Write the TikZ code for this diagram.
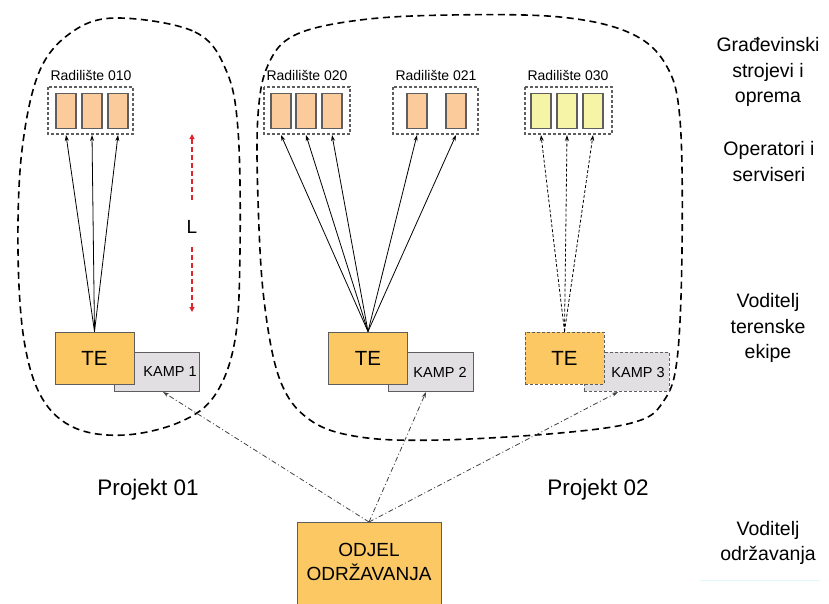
\documentclass[tikz,border=0pt]{standalone}
\usepackage{fontspec}
\setmainfont{Liberation Sans}
\usetikzlibrary{arrows.meta}
\definecolor{rorange}{HTML}{FBCB9C}
\definecolor{ryellow}{HTML}{F6F4A6}
\definecolor{teorange}{HTML}{FBC864}
\definecolor{kampgray}{HTML}{E2DFE2}
\definecolor{edgegray}{HTML}{5E5E5E}
\definecolor{lred}{HTML}{E0242C}
\tikzset{
  x=1pt, y=-1pt,
  blob/.style={draw=black, line width=1.6pt, dash pattern=on 7pt off 4.5pt},
  radbox/.style={draw=edgegray, line width=1.1pt, dash pattern=on 3pt off 2pt, fill=white},
  radrect/.style={draw=edgegray, line width=1.3pt, minimum width=20pt, minimum height=35pt, inner sep=0pt},
  radlabel/.style={font=\fontsize{14}{16}\selectfont, inner sep=0pt},
  tebox/.style={draw=edgegray, line width=1pt, fill=teorange, minimum width=79pt, minimum height=52pt, inner sep=0pt, font=\fontsize{20.5}{22}\selectfont},
  kampbox/.style={draw=edgegray, line width=1pt, fill=kampgray, minimum width=85pt, minimum height=39pt, inner sep=0pt},
  kamplabel/.style={font=\fontsize{14.5}{16}\selectfont, inner sep=0pt},
  conn/.style={line width=0.8pt, -{Stealth[length=6pt,width=4pt]}},
  dconn/.style={conn, dash pattern=on 3pt off 2pt},
  ddconn/.style={line width=0.8pt, draw=black!75, dash pattern=on 5pt off 2.5pt on 1pt off 2.5pt, -{Stealth[length=6pt,width=4pt]}},
  sidelabel/.style={align=center, font=\fontsize{19.5}{25.5}\selectfont, inner sep=0pt},
  projlabel/.style={font=\fontsize{22.5}{24}\selectfont, inner sep=0pt},
}
\begin{document}
\begin{tikzpicture}
\useasboundingbox (0,0) rectangle (829,603);

% blobs
\draw[blob] plot[smooth cycle, tension=0.6] coordinates {(120,18) (195,32) (226,70) (238,130) (240,250) (235,340) (215,395) (180,422) (125,435) (75,428) (42,398) (24,340) (18,250) (22,150) (40,70) (75,30)};
\draw[blob] plot[smooth cycle, tension=0.6] coordinates {(295,35) (360,20) (450,15) (560,17) (630,33) (666,65) (680,120) (682,250) (677,360) (663,402) (635,422) (560,433) (440,440) (360,437) (310,420) (280,380) (264,300) (258,200) (258,115) (268,65)};

% Radiliste 010
\node[radlabel] (l010) at (91,75) {Radilište 010};
\draw[radbox] (48,87) rectangle (133,134);
\node[radrect, fill=rorange] (a1) at (66,111) {};
\node[radrect, fill=rorange] (a2) at (92,111) {};
\node[radrect, fill=rorange] (a3) at (118,111) {};
\coordinate (a1b) at (66,135);
\coordinate (a2b) at (92,135);
\coordinate (a3b) at (118,135);

% Radiliste 020
\node[radlabel] (l020) at (307,75) {Radilište 020};
\draw[radbox] (264,87) rectangle (350,134);
\node[radrect, fill=rorange] (b1) at (281,111) {};
\node[radrect, fill=rorange] (b2) at (306,111) {};
\node[radrect, fill=rorange] (b3) at (332,111) {};
\coordinate (b1b) at (281,135);
\coordinate (b2b) at (306,135);
\coordinate (b3b) at (332,135);

% Radiliste 021
\node[radlabel] (l021) at (436,75) {Radilište 021};
\draw[radbox] (393,87) rectangle (478,134);
\node[radrect, fill=rorange] (c1) at (417,111) {};
\node[radrect, fill=rorange] (c2) at (456,111) {};
\coordinate (c1b) at (417,135);
\coordinate (c2b) at (456,135);

% Radiliste 030
\node[radlabel] (l030) at (568,75) {Radilište 030};
\draw[radbox] (525,87) rectangle (612,134);
\node[radrect, fill=ryellow] (d1) at (541,111) {};
\node[radrect, fill=ryellow] (d2) at (567,111) {};
\node[radrect, fill=ryellow] (d3) at (593,111) {};
\coordinate (d1b) at (541,135);
\coordinate (d2b) at (567,135);
\coordinate (d3b) at (593,135);

% KAMP boxes (behind TE)
\node[kampbox] (k1) at (156.5,371.5) {};
\node[kamplabel] at (170,372) {KAMP 1};
\node[kampbox] (k2) at (430.5,371.5) {};
\node[kamplabel] at (440,372) {KAMP 2};
\node[kampbox, dash pattern=on 3pt off 2pt] (k3) at (626.5,371.5) {};
\node[kamplabel] at (638,372) {KAMP 3};

% TE boxes
\node[tebox] (t1) at (94.5,358) {TE};
\node[tebox] (t2) at (368,358) {TE};
\node[tebox, dash pattern=on 3pt off 2pt] (t3) at (564.5,358) {TE};

% connectors
\foreach \p in {a1b,a2b,a3b} \draw[conn] (t1.north) -- (\p);
\foreach \p in {b1b,b2b,b3b,c1b,c2b} \draw[conn] (t2.north) -- (\p);
\foreach \p in {d1b,d2b,d3b} \draw[dconn] (t3.north) -- (\p);

% L
\node[font=\fontsize{19}{20}\selectfont, inner sep=0pt] (L) at (192,227) {L};
\coordinate (Ltop) at (192,134);
\coordinate (Lbot) at (192,312);
\draw[lred, line width=1.2pt, dash pattern=on 5pt off 3pt, -{Triangle[length=5pt,width=5pt]}] (192,200) -- (Ltop);
\draw[lred, line width=1.2pt, dash pattern=on 5pt off 3pt, -{Triangle[length=5pt,width=5pt]}] (192,247) -- (Lbot);

% ODJEL
\node[draw=edgegray, line width=1pt, fill=teorange, minimum width=144pt, minimum height=90pt, inner sep=0pt, anchor=north] (od) at (369,522) {};
\node[align=center, font=\fontsize{19}{24}\selectfont, inner sep=0pt] at (369,562) {ODJEL\\ODRŽAVANJA};
\coordinate (k1t) at (163,392);
\coordinate (k2t) at (426,392);
\coordinate (k3t) at (618,392);
\foreach \p in {k1t,k2t,k3t} \draw[ddconn] (od.north) -- (\p);

% project labels
\node[projlabel] (p1) at (148,490) {Projekt 01};
\node[projlabel] (p2) at (598,490) {Projekt 02};

% side labels
\node[sidelabel] (s1) at (768,72) {Građevinski\\strojevi i\\oprema};
\node[sidelabel] (s2) at (769,161.5) {Operatori i\\serviseri};
\node[sidelabel] (s3) at (768,328) {Voditelj\\terenske\\ekipe};
\node[sidelabel] (s4) at (768,543) {Voditelj\\održavanja};
\draw[cyan!12, line width=0.8pt] (700,580) -- (820,580);
\end{tikzpicture}
\end{document}
